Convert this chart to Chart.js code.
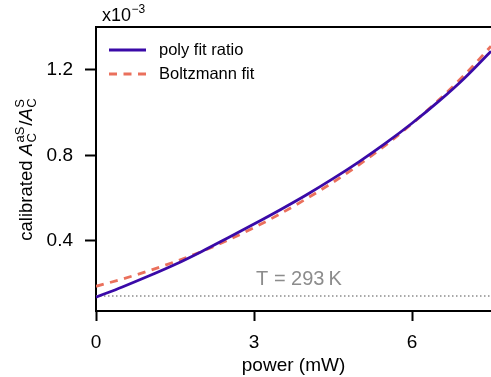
<!DOCTYPE html>
<html>
<head>
<meta charset="utf-8">
<script src="https://cdn.jsdelivr.net/npm/chart.js@4.4.1/dist/chart.umd.min.js"></script>
<style>
  html, body { margin: 0; padding: 0; background: #fff; }
  #wrap { width: 491px; height: 377px; position: relative; }
</style>
</head>
<body>
<div id="wrap"><canvas id="c" width="491" height="377"></canvas></div>
<script>
// ---- data (values in units of 1e-3) ----
const power = [0, 0.5, 1, 1.5, 2, 2.5, 3, 3.5, 4, 4.5, 5, 5.5, 6, 6.5, 7, 7.5];
const polyFitRatio = [0.137, 0.185, 0.236, 0.290, 0.350, 0.414, 0.479, 0.546, 0.616, 0.691, 0.771, 0.857, 0.950, 1.051, 1.162, 1.287];
const boltzmannFit = [0.188, 0.222, 0.260, 0.303, 0.350, 0.403, 0.462, 0.527, 0.598, 0.674, 0.757, 0.848, 0.948, 1.057, 1.177, 1.310];
const roomTempLevel = 0.143;
const roomTempLabel = 'T = 293\u2009K';
const xTicks = [0, 3, 6];
const yTicks = [0.4, 0.8, 1.2];
const xRange = [0, 7.5];
const yRange = [0.0725, 1.40];
const legendLabels = ['poly fit ratio', 'Boltzmann fit'];

const POLY_COLOR = '#3a0aa8';
const BOLTZ_COLOR = '#ea705c';
const FONT = '"Liberation Sans", Arial, Helvetica, sans-serif';

const toPts = (xs, ys) => xs.map((x, i) => ({ x: x, y: ys[i] }));

const decor = {
  id: 'decor',
  afterDraw(chart) {
    const ctx = chart.ctx;
    const a = chart.chartArea;
    const xs = chart.scales.x, ys = chart.scales.y;
    ctx.save();
    // top frame line
    ctx.strokeStyle = '#000';
    ctx.lineWidth = 2;
    ctx.beginPath();
    ctx.moveTo(a.left - 1, a.top);
    ctx.lineTo(a.right, a.top);
    ctx.stroke();

    // T label
    ctx.fillStyle = '#8c8c8c';
    ctx.font = '20px ' + FONT;
    ctx.textAlign = 'left';
    ctx.textBaseline = 'alphabetic';
    ctx.fillText(roomTempLabel, xs.getPixelForValue(3.04), ys.getPixelForValue(roomTempLevel) - 10.5);

    // legend
    const lx0 = 109, lx1 = 146, ly = [50, 74];
    ctx.lineWidth = 2.8;
    ctx.strokeStyle = POLY_COLOR;
    ctx.setLineDash([]);
    ctx.beginPath(); ctx.moveTo(lx0, ly[0]); ctx.lineTo(lx1, ly[0]); ctx.stroke();
    ctx.strokeStyle = BOLTZ_COLOR;
    ctx.setLineDash([8, 6.5]);
    ctx.beginPath(); ctx.moveTo(lx0, ly[1]); ctx.lineTo(lx1 + 1, ly[1]); ctx.stroke();
    ctx.setLineDash([]);
    ctx.fillStyle = '#000';
    ctx.font = '16.5px ' + FONT;
    ctx.textBaseline = 'middle';
    ctx.fillText(legendLabels[0], 159, ly[0]);
    ctx.fillText(legendLabels[1], 159, ly[1]);

    // multiplier x10^-3
    ctx.textBaseline = 'alphabetic';
    ctx.font = '18px ' + FONT;
    ctx.fillText('x10', 102, 21);
    const w10 = ctx.measureText('x10').width;
    ctx.font = '12px ' + FONT;
    ctx.fillText('\u22123', 102 + w10 + 0.5, 13);

    // x title
    ctx.font = '19px ' + FONT;
    ctx.textAlign = 'center';
    ctx.textBaseline = 'middle';
    ctx.fillText('power (mW)', (a.left + a.right) / 2, 366);

    // y title (rotated, with sub/superscripts)
    const big = 18.5, small = 13;
    const parts = [
      { t: 'calibrated ', f: big + 'px ' + FONT },
      { t: 'A', f: 'italic ' + big + 'px ' + FONT },
      { sub: 'C', sup: 'aS' },
      { t: '/', f: big + 'px ' + FONT },
      { t: 'A', f: 'italic ' + big + 'px ' + FONT },
      { sub: 'C', sup: 'S' }
    ];
    const sf = small + 'px ' + FONT;
    let total = 0;
    parts.forEach(p => {
      if (p.t) { ctx.font = p.f; p.w = ctx.measureText(p.t).width; }
      else { ctx.font = sf; p.w = Math.max(ctx.measureText(p.sub).width, ctx.measureText(p.sup).width) + 1.5; }
      total += p.w;
    });
    ctx.translate(32, (a.top + a.bottom) / 2);
    ctx.rotate(-Math.PI / 2);
    ctx.textAlign = 'left';
    ctx.textBaseline = 'alphabetic';
    let u = -total / 2;
    parts.forEach(p => {
      if (p.t) { ctx.font = p.f; ctx.fillText(p.t, u, 0); }
      else {
        ctx.font = sf;
        ctx.fillText(p.sub, u + 0.5, 4);
        ctx.fillText(p.sup, u + 0.5, -8);
      }
      u += p.w;
    });
    ctx.restore();
  }
};

new Chart(document.getElementById('c'), {
  type: 'line',
  data: {
    datasets: [
      {
        label: legendLabels[0],
        data: toPts(power, polyFitRatio),
        borderColor: POLY_COLOR,
        borderWidth: 2.8,
        pointRadius: 0,
        cubicInterpolationMode: 'monotone',
        fill: false
      },
      {
        label: legendLabels[1],
        data: toPts(power, boltzmannFit),
        borderColor: BOLTZ_COLOR,
        borderWidth: 2.8,
        borderDash: [8, 6.5],
        pointRadius: 0,
        cubicInterpolationMode: 'monotone',
        fill: false
      },
      {
        label: 'T',
        data: [{ x: xRange[0], y: roomTempLevel }, { x: xRange[1], y: roomTempLevel }],
        borderColor: '#8c8c8c',
        borderWidth: 1.5,
        borderDash: [1.5, 2.5],
        pointRadius: 0,
        fill: false
      }
    ]
  },
  options: {
    responsive: false,
    animation: false,
    devicePixelRatio: 1,
    layout: { padding: { left: 0, right: 0, top: 27, bottom: 0 } },
    plugins: { legend: { display: false }, tooltip: { enabled: false } },
    scales: {
      x: {
        type: 'linear',
        min: xRange[0], max: xRange[1],
        afterFit: s => { s.height = 66; },
        afterBuildTicks: s => { s.ticks = xTicks.map(v => ({ value: v })); },
        ticks: { color: '#000', font: { size: 19, family: FONT }, padding: 10, maxRotation: 0, callback: v => String(v) },
        grid: { display: true, drawOnChartArea: false, drawTicks: true, tickLength: 10, tickWidth: 2, tickColor: '#000' },
        border: { display: true, color: '#000', width: 2 }
      },
      y: {
        type: 'linear',
        min: yRange[0], max: yRange[1],
        afterFit: s => { s.width = 96; },
        afterBuildTicks: s => { s.ticks = yTicks.map(v => ({ value: v })); },
        ticks: { color: '#000', font: { size: 19, family: FONT }, padding: 12, callback: v => v.toFixed(1) },
        grid: { display: true, drawOnChartArea: false, drawTicks: true, tickLength: 11, tickWidth: 2, tickColor: '#000' },
        border: { display: true, color: '#000', width: 2 }
      }
    }
  },
  plugins: [decor]
});
</script>
</body>
</html>
